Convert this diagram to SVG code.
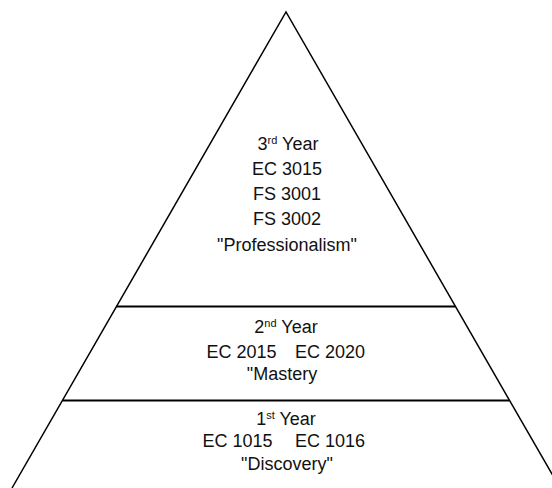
<svg xmlns="http://www.w3.org/2000/svg" width="552" height="488" viewBox="0 0 552 488">
<style>
.t{font-family:"Liberation Sans",Arial,sans-serif;font-size:18px;fill:#111;text-anchor:middle}
.sup{font-size:11px}
.ln{stroke:#000;fill:none}
</style>
<rect width="552" height="488" fill="#fff"/>
<g id="pyramid">
<path class="ln" d="M12,488 L286,12 L560,488" stroke-width="1.5"/>
<line class="ln" x1="116" y1="306.5" x2="455.5" y2="306.5" stroke-width="2"/>
<line class="ln" x1="62.5" y1="400.5" x2="509.5" y2="400.5" stroke-width="2"/>
</g>
<g id="year3">
<text class="t" x="288" y="150">3<tspan class="sup" dy="-6">rd</tspan><tspan dy="6"> Year</tspan></text>
<text class="t" x="287" y="175">EC 3015</text>
<text class="t" x="287" y="200">FS 3001</text>
<text class="t" x="287" y="225">FS 3002</text>
<text class="t" x="287" y="250.5">"Professionalism"</text>
</g>
<g id="year2">
<text class="t" x="286" y="333">2<tspan class="sup" dy="-6">nd</tspan><tspan dy="6"> Year</tspan></text>
<text class="t" x="241.5" y="358">EC 2015</text>
<text class="t" x="330" y="358">EC 2020</text>
<text class="t" x="282" y="380">"Mastery</text>
</g>
<g id="year1">
<text class="t" x="286" y="425">1<tspan class="sup" dy="-6">st</tspan><tspan dy="6"> Year</tspan></text>
<text class="t" x="237.5" y="447">EC 1015</text>
<text class="t" x="330" y="447">EC 1016</text>
<text class="t" x="287" y="470">"Discovery"</text>
</g>
<g id="connectors"/>
</svg>
